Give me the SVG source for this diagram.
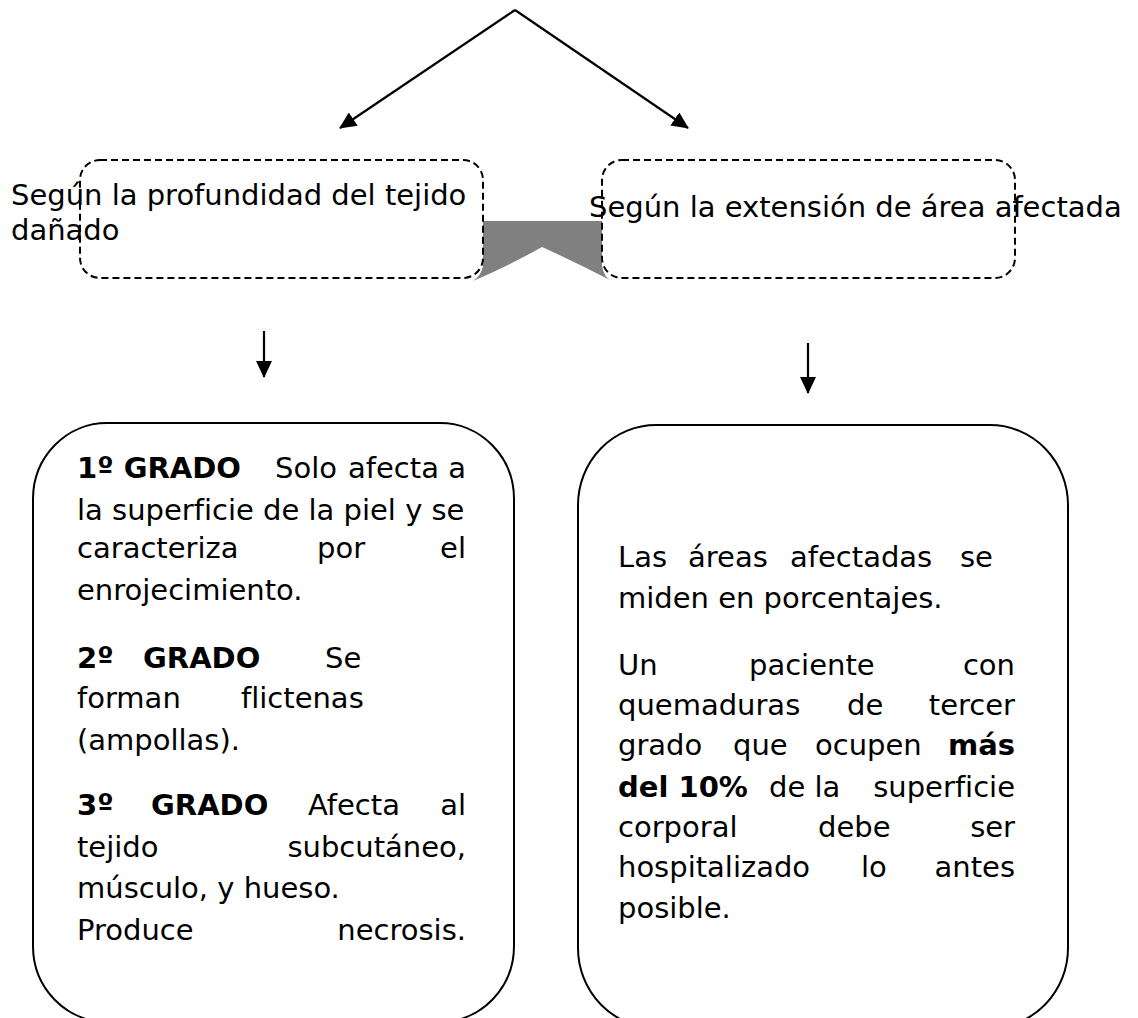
<svg xmlns="http://www.w3.org/2000/svg" width="1138" height="1018" viewBox="0 0 1138 1018">
<style>
text{font-family:"DejaVu Sans",Verdana,sans-serif;font-size:29px;fill:#000;font-variant-ligatures:none}
.b{font-weight:bold}
.e{text-anchor:end}
.dash{fill:none;stroke:#000;stroke-width:2;stroke-dasharray:7 4}
.box{fill:none;stroke:#000;stroke-width:2}
.ln{stroke:#000;stroke-width:2.2;fill:none}
</style>
<defs>
<marker id="ah" markerUnits="userSpaceOnUse" markerWidth="17" markerHeight="16" refX="16" refY="8" orient="auto">
<path d="M0,0 L17,8 L0,16 Z" fill="#000"/>
</marker>
</defs>
<rect width="1138" height="1018" fill="#fff"/>
<g id="connectors">
<path d="M483,221 H602 V266 Q604,278 612,281 Q575,262 542,247 Q508,266 473,281 Q481,276 483,266 Z" fill="#808080"/>
<line class="ln" x1="515" y1="10" x2="340" y2="128" marker-end="url(#ah)"/>
<line class="ln" x1="515" y1="10" x2="688" y2="128" marker-end="url(#ah)"/>
<line class="ln" x1="264" y1="331" x2="264" y2="377" marker-end="url(#ah)"/>
<line class="ln" x1="808" y1="343" x2="808" y2="393" marker-end="url(#ah)"/>
</g>
<g id="node-profundidad">
<rect class="dash" x="80" y="160" width="403" height="118" rx="20" ry="20"/>
<text x="11" y="205">Según la profundidad del tejido</text>
<text x="11" y="240">dañado</text>
</g>
<g id="node-extension">
<rect class="dash" x="602" y="160" width="413" height="118" rx="20" ry="20"/>
<text x="589" y="217">Según la extensión de área afectada</text>
</g>
<g id="node-grados">
<rect class="box" x="33" y="423" width="481" height="599" rx="74" ry="76"/>
<text class="b" x="77" y="478">1º GRADO</text>
<text x="275" y="478">Solo</text>
<text x="348" y="478">afecta</text>
<text class="e" x="466" y="478">a</text>
<text x="77" y="520">la superficie de la piel y se</text>
<text x="77" y="558">caracteriza</text>
<text x="317" y="558">por</text>
<text class="e" x="466" y="558">el</text>
<text x="77" y="600">enrojecimiento.</text>
<text class="b" x="77" y="668">2º</text>
<text class="b" x="143" y="668">GRADO</text>
<text x="325" y="668">Se</text>
<text x="77" y="708">forman</text>
<text x="241" y="708">flictenas</text>
<text x="77" y="750">(ampollas).</text>
<text class="b" x="77" y="815">3º</text>
<text class="b" x="151" y="815">GRADO</text>
<text x="308" y="815">Afecta</text>
<text class="e" x="466" y="815">al</text>
<text x="77" y="857">tejido</text>
<text class="e" x="466" y="857">subcutáneo,</text>
<text x="77" y="898">músculo, y hueso.</text>
<text x="77" y="940">Produce</text>
<text class="e" x="466" y="940">necrosis.</text>
</g>
<g id="node-areas">
<rect class="box" x="578" y="425" width="490" height="603" rx="78" ry="80"/>
<text x="618" y="567">Las</text>
<text x="688" y="567">áreas</text>
<text x="790" y="567">afectadas</text>
<text x="960" y="567">se</text>
<text x="618" y="608">miden en porcentajes.</text>
<text x="618" y="675">Un</text>
<text x="749" y="675">paciente</text>
<text class="e" x="1015" y="675">con</text>
<text x="618" y="715">quemaduras</text>
<text x="847" y="715">de</text>
<text class="e" x="1015" y="715">tercer</text>
<text x="618" y="755">grado</text>
<text x="733" y="755">que</text>
<text x="815" y="755">ocupen</text>
<text class="b e" x="1015" y="755">más</text>
<text class="b" x="618" y="797">del 10%</text>
<text x="769" y="797">de la</text>
<text class="e" x="1015" y="797">superficie</text>
<text x="618" y="837">corporal</text>
<text x="818" y="837">debe</text>
<text class="e" x="1015" y="837">ser</text>
<text x="618" y="877">hospitalizado</text>
<text x="861" y="877">lo</text>
<text class="e" x="1015" y="877">antes</text>
<text x="618" y="918">posible.</text>
</g>
</svg>
